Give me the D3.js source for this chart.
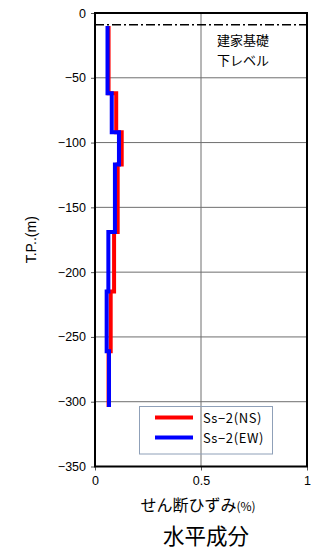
<!DOCTYPE html>
<html><head><meta charset="utf-8">
<script src="https://cdn.jsdelivr.net/npm/d3@7"></script>
<style>
html,body{margin:0;padding:0;background:#fff;}
svg{display:block;}
</style></head>
<body>
<script>
// ---- data ----
const layerDepths = [-10, -62, -92, -117, -169, -215, -261, -304];
const nsStrain = [0.064, 0.100, 0.126, 0.107, 0.090, 0.074, 0.064];
const ewStrain = [0.059, 0.079, 0.113, 0.094, 0.063, 0.055, 0.066];
const seriesNames = ["Ss\u22122(NS)", "Ss\u22122(EW)"];
const yTicks = [0, -50, -100, -150, -200, -250, -300, -350];
const xTicks = [0, 0.5, 1];
const xTickLabels = ["0", "0.5", "1"];
const foundationLevel = -9;
const annotation = ["建家基礎", "下レベル"];
const xTitleMain = "せん断ひずみ";
const xTitleUnit = "(%)";
const yTitle = "T.P..(m)";
const chartTitle = "水平成分";

const W = 320, H = 551;
const svg = d3.select("body").append("svg").attr("width", W).attr("height", H);
const x = d3.scaleLinear().domain([0, 1]).range([95, 307]);
const y = d3.scaleLinear().domain([-350, 0]).range([466.5, 13]);
const numFont = "'Liberation Sans', Arial, sans-serif";
const jpFont = "'Noto Sans CJK JP', sans-serif";

// grid
svg.append("g").selectAll("line").data(yTicks.slice(1, -1)).join("line")
  .attr("x1", x(0)).attr("x2", x(1)).attr("y1", d => y(d)).attr("y2", d => y(d))
  .attr("stroke", "#6e6e6e").attr("stroke-width", 1);
svg.append("line").attr("x1", x(0.5)).attr("x2", x(0.5)).attr("y1", y(0)).attr("y2", y(-350))
  .attr("stroke", "#6e6e6e").attr("stroke-width", 1);

// axes
const yAxis = d3.axisLeft(y).tickValues(yTicks).tickSize(4).tickPadding(5)
  .tickFormat(d => d === 0 ? "0" : "\u2212" + Math.abs(d));
const gy = svg.append("g").attr("transform", `translate(${x(0)},0)`).call(yAxis);
gy.select(".domain").remove();
gy.selectAll("text").attr("font-family", numFont).attr("font-size", 12.5).attr("fill", "#000");
gy.selectAll("line").attr("stroke", "#555");

const xAxis = d3.axisBottom(x).tickValues(xTicks).tickSize(4).tickPadding(6)
  .tickFormat((d, i) => xTickLabels[i]);
const gx = svg.append("g").attr("transform", `translate(0,${y(-350)})`).call(xAxis);
gx.select(".domain").remove();
gx.selectAll("text").attr("font-family", numFont).attr("font-size", 12.5).attr("fill", "#000");
gx.selectAll("line").attr("stroke", "#555");

// frame
svg.append("rect").attr("x", x(0)).attr("y", y(0)).attr("width", x(1) - x(0)).attr("height", y(-350) - y(0))
  .attr("fill", "none").attr("stroke", "#000").attr("stroke-width", 2);

// foundation line
svg.append("line").attr("x1", x(0)).attr("x2", x(1)).attr("y1", y(foundationLevel)).attr("y2", y(foundationLevel))
  .attr("stroke", "#000").attr("stroke-width", 1.5).attr("stroke-dasharray", "9,3,2,3");
annotation.forEach((t, i) => {
  svg.append("text").attr("x", 217).attr("y", 45 + i * 19.5)
    .attr("font-family", jpFont).attr("font-size", 13).attr("fill", "#000").text(t);
});

// series
function steps(vals) {
  const pts = [];
  vals.forEach((v, i) => { pts.push([v, layerDepths[i]]); pts.push([v, layerDepths[i + 1]]); });
  return pts;
}
const line = d3.line().x(d => x(d[0])).y(d => y(d[1]));
const colors = ["#ff0000", "#0000ff"];
[nsStrain, ewStrain].forEach((s, i) => {
  svg.append("path").attr("d", line(steps(s))).attr("fill", "none")
    .attr("stroke", colors[i]).attr("stroke-width", 4).attr("stroke-linejoin", "miter");
});

// legend
svg.append("rect").attr("x", 139.5).attr("y", 406.5).attr("width", 133).attr("height", 47.5)
  .attr("fill", "none").attr("stroke", "#8fa0b8").attr("stroke-width", 1);
seriesNames.forEach((n, i) => {
  const ly = 417.5 + i * 20;
  svg.append("line").attr("x1", 155).attr("x2", 193).attr("y1", ly).attr("y2", ly)
    .attr("stroke", colors[i]).attr("stroke-width", 4);
  svg.append("text").attr("x", 203).attr("y", ly + 5).attr("font-family", jpFont)
    .attr("font-size", 13).attr("letter-spacing", 0.6).attr("fill", "#000").text(n);
});

// titles
const xt = svg.append("text").attr("x", 198).attr("y", 511).attr("text-anchor", "middle")
  .attr("font-family", jpFont).attr("font-size", 16).attr("fill", "#000");
xt.append("tspan").text(xTitleMain);
xt.append("tspan").attr("font-size", 12).text(xTitleUnit);
svg.append("text").attr("x", 206).attr("y", 544).attr("text-anchor", "middle")
  .attr("font-family", jpFont).attr("font-size", 21.5).attr("fill", "#000").text(chartTitle);
svg.append("text").attr("transform", `translate(36,${(y(0) + y(-350)) / 2}) rotate(-90)`)
  .attr("text-anchor", "middle").attr("font-family", numFont).attr("font-size", 14)
  .attr("fill", "#000").text(yTitle);
</script>
</body></html>
